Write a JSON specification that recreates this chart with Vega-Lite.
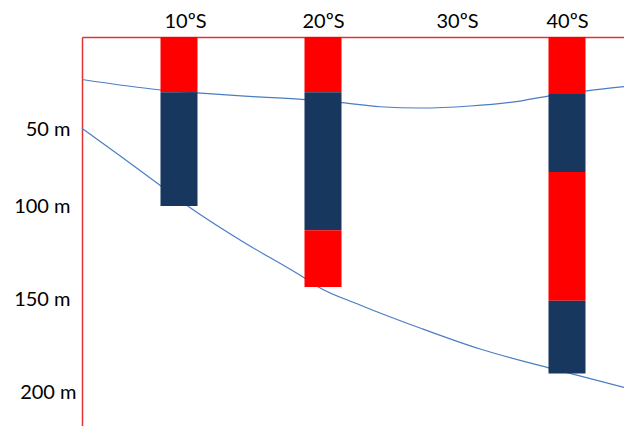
{
  "$schema": "https://vega.github.io/schema/vega-lite/v6.json",
  "width": 542,
  "height": 389,
  "autosize": {"type": "none"},
  "padding": {"left": 82, "top": 37, "right": 0, "bottom": 0},
  "background": "white",
  "config": {"view": {"stroke": null}, "font": "Lato"},
  "datasets": {
    "curves": [
      {"curve": "upper", "lat": 3, "depth": 23.1},
      {"curve": "upper", "lat": 8.7, "depth": 28.8},
      {"curve": "upper", "lat": 11.25, "depth": 30.4},
      {"curve": "upper", "lat": 14.93, "depth": 32.3},
      {"curve": "upper", "lat": 18.75, "depth": 34.0},
      {"curve": "upper", "lat": 21.42, "depth": 35.7},
      {"curve": "upper", "lat": 24.25, "depth": 37.9},
      {"curve": "upper", "lat": 27.24, "depth": 38.6},
      {"curve": "upper", "lat": 31.18, "depth": 37.5},
      {"curve": "upper", "lat": 35.73, "depth": 34.8},
      {"curve": "upper", "lat": 38.27, "depth": 32.1},
      {"curve": "upper", "lat": 41.58, "depth": 29.4},
      {"curve": "upper", "lat": 45, "depth": 27.0},
      {"curve": "lower", "lat": 3, "depth": 49.6},
      {"curve": "lower", "lat": 5.74, "depth": 67.3},
      {"curve": "lower", "lat": 8.7, "depth": 87.0},
      {"curve": "lower", "lat": 10.76, "depth": 100.8},
      {"curve": "lower", "lat": 14.24, "depth": 118.3},
      {"curve": "lower", "lat": 18.75, "depth": 138.9},
      {"curve": "lower", "lat": 19.65, "depth": 143.4},
      {"curve": "lower", "lat": 22.76, "depth": 153.2},
      {"curve": "lower", "lat": 27.24, "depth": 165.6},
      {"curve": "lower", "lat": 32.09, "depth": 176.9},
      {"curve": "lower", "lat": 38.27, "depth": 186.9},
      {"curve": "lower", "lat": 45, "depth": 197.5}
    ],
    "bars": [
      {"lat": 10, "depth": 0, "depth_end": 30, "band": "red"},
      {"lat": 10, "depth": 30, "depth_end": 100, "band": "navy"},
      {"lat": 20, "depth": 0, "depth_end": 30, "band": "red"},
      {"lat": 20, "depth": 30, "depth_end": 113, "band": "navy"},
      {"lat": 20, "depth": 113, "depth_end": 143.5, "band": "red"},
      {"lat": 40, "depth": 0, "depth_end": 31, "band": "red"},
      {"lat": 40, "depth": 31, "depth_end": 78, "band": "navy"},
      {"lat": 40, "depth": 78, "depth_end": 151, "band": "red"},
      {"lat": 40, "depth": 151, "depth_end": 190, "band": "navy"}
    ]
  },
  "encoding": {
    "x": {
      "field": "lat",
      "type": "quantitative",
      "scale": {"domain": [3, 10, 20, 30, 40, 45], "range": [0, 97, 241, 375, 485, 542], "nice": false, "zero": false, "padding": 0},
      "axis": {
        "orient": "top",
        "title": null,
        "values": [10, 20, 30, 40],
        "labelExpr": "datum.value + 'ºS'",
        "ticks": false,
        "grid": false,
        "domainColor": "#E03434",
        "domainWidth": 1.5,
        "labelFont": "Lato",
        "labelFontSize": 20,
        "labelColor": "#000000",
        "labelBaseline": "alphabetic",
        "labelPadding": 10,
        "labelFlush": false,
        "labelOverlap": false,
        "labelOffset": {"condition": {"test": "datum.value == 10", "value": 6}, "value": 0}
      }
    },
    "y": {
      "field": "depth",
      "type": "quantitative",
      "scale": {"domain": [0, 50, 100, 150, 200, 218], "range": [0, 92, 169, 262, 355, 389], "nice": false, "zero": false, "padding": 0},
      "axis": {
        "orient": "left",
        "title": null,
        "values": [50, 100, 150, 200],
        "labelExpr": "datum.value + ' m'",
        "ticks": false,
        "grid": false,
        "domainColor": "#E03434",
        "domainWidth": 1.5,
        "labelFont": "Lato",
        "labelFontSize": 20,
        "labelColor": "#000000",
        "labelBaseline": "middle",
        "labelFlush": false,
        "labelOverlap": false,
        "labelPadding": {"condition": {"test": "datum.value == 200", "value": 6}, "value": 12}
      }
    }
  },
  "layer": [
    {
      "data": {"name": "curves"},
      "mark": {"type": "line", "interpolate": "monotone", "strokeWidth": 1.2, "color": "#4A7DC4"},
      "encoding": {"detail": {"field": "curve", "type": "nominal"}}
    },
    {
      "data": {"name": "bars"},
      "mark": {"type": "bar", "width": 37},
      "encoding": {
        "y2": {"field": "depth_end"},
        "color": {
          "field": "band",
          "type": "nominal",
          "scale": {"domain": ["red", "navy"], "range": ["#FF0000", "#17375E"]},
          "legend": null
        }
      }
    }
  ]
}
